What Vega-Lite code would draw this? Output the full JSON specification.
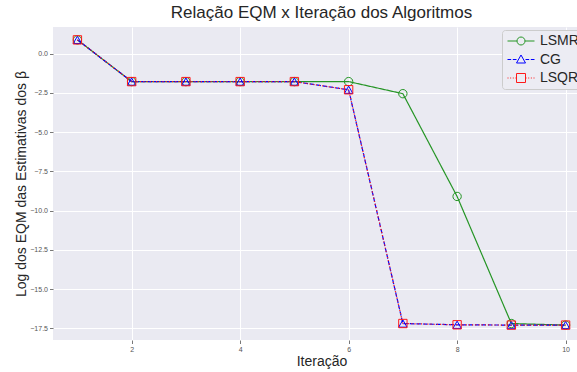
{
  "$schema": "https://vega.github.io/schema/vega-lite/v6.json",
  "autosize": "none",
  "width": 537,
  "height": 313,
  "padding": {"left": 53, "top": 27, "right": 0, "bottom": 32},
  "background": "white",
  "title": {"text": "Relação EQM x Iteração dos Algoritmos", "font": "Liberation Sans", "fontSize": 17, "fontWeight": "normal", "color": "#262626", "offset": 5, "anchor": "middle"},
  "config": {
    "view": {"fill": "#EAEAF2", "stroke": null},
    "axis": {"domain": false, "gridColor": "white", "gridWidth": 1, "tickColor": "#555555", "tickSize": 3.5, "tickWidth": 0.8, "labelFont": "Liberation Sans", "labelFontSize": 7, "labelColor": "#555555", "labelPadding": 2, "titleFont": "Liberation Sans", "titleFontSize": 14, "titleFontWeight": "normal", "titleColor": "#262626"},
    "legend": {"symbolStrokeWidth": 1, "symbolSize": 100, "symbolOpacity": 1}
  },
  "data": {"values": [
    {"iter": 1, "metodo": "LSMR", "eqm": 0.88},
    {"iter": 2, "metodo": "LSMR", "eqm": -1.78},
    {"iter": 3, "metodo": "LSMR", "eqm": -1.78},
    {"iter": 4, "metodo": "LSMR", "eqm": -1.78},
    {"iter": 5, "metodo": "LSMR", "eqm": -1.78},
    {"iter": 6, "metodo": "LSMR", "eqm": -1.78},
    {"iter": 7, "metodo": "LSMR", "eqm": -2.55},
    {"iter": 8, "metodo": "LSMR", "eqm": -9.1},
    {"iter": 9, "metodo": "LSMR", "eqm": -17.2},
    {"iter": 10, "metodo": "LSMR", "eqm": -17.3},
    {"iter": 1, "metodo": "CG", "eqm": 0.88},
    {"iter": 2, "metodo": "CG", "eqm": -1.78},
    {"iter": 3, "metodo": "CG", "eqm": -1.78},
    {"iter": 4, "metodo": "CG", "eqm": -1.78},
    {"iter": 5, "metodo": "CG", "eqm": -1.78},
    {"iter": 6, "metodo": "CG", "eqm": -2.3},
    {"iter": 7, "metodo": "CG", "eqm": -17.2},
    {"iter": 8, "metodo": "CG", "eqm": -17.28},
    {"iter": 9, "metodo": "CG", "eqm": -17.3},
    {"iter": 10, "metodo": "CG", "eqm": -17.3},
    {"iter": 1, "metodo": "LSQR", "eqm": 0.88},
    {"iter": 2, "metodo": "LSQR", "eqm": -1.78},
    {"iter": 3, "metodo": "LSQR", "eqm": -1.78},
    {"iter": 4, "metodo": "LSQR", "eqm": -1.78},
    {"iter": 5, "metodo": "LSQR", "eqm": -1.78},
    {"iter": 6, "metodo": "LSQR", "eqm": -2.3},
    {"iter": 7, "metodo": "LSQR", "eqm": -17.2},
    {"iter": 8, "metodo": "LSQR", "eqm": -17.28},
    {"iter": 9, "metodo": "LSQR", "eqm": -17.3},
    {"iter": 10, "metodo": "LSQR", "eqm": -17.3}
  ]},
  "encoding": {
    "x": {"field": "iter", "type": "quantitative", "title": "Iteração", "scale": {"domain": [0.55, 10.45], "nice": false, "zero": false}, "axis": {"values": [2, 4, 6, 8, 10], "format": "d", "titlePadding": 2}},
    "y": {"field": "eqm", "type": "quantitative", "title": "Log dos EQM das Estimativas dos β", "scale": {"domain": [-18.25, 1.7], "nice": false, "zero": false}, "axis": {"values": [0, -2.5, -5, -7.5, -10, -12.5, -15, -17.5], "format": ".1f", "titlePadding": 1}}
  },
  "resolve": {"scale": {"shape": "independent", "color": "independent"}},
  "layer": [
    {
      "mark": {"type": "line", "strokeWidth": 1.2},
      "encoding": {
        "color": {"field": "metodo", "type": "nominal", "scale": {"domain": ["LSMR", "CG", "LSQR"], "range": ["#259525", "#0000ff", "#ff1a1a"]}, "legend": null},
        "strokeDash": {"field": "metodo", "type": "nominal", "scale": {"domain": ["LSMR", "CG", "LSQR"], "range": [[1, 0], [4.5, 2], [1.2, 2]]}, "legend": null},
        "order": {"field": "iter", "type": "quantitative"}
      }
    },
    {
      "mark": {"type": "point", "filled": false, "strokeWidth": 1, "opacity": 1, "size": 70},
      "encoding": {
        "color": {"field": "metodo", "type": "nominal", "scale": {"domain": ["LSMR", "CG", "LSQR"], "range": ["#259525", "#0000ff", "#ff1a1a"]}, "legend": null},
        "shape": {"field": "metodo", "type": "nominal", "scale": {"domain": ["LSMR", "CG", "LSQR"], "range": ["circle", "triangle-up", "square"]}, "legend": null}
      }
    },
    {
      "transform": [{"filter": "false"}],
      "mark": {"type": "point", "filled": false, "strokeWidth": 1, "opacity": 1},
      "encoding": {
        "color": {"field": "metodo", "type": "nominal", "scale": {"domain": ["LSMR", "CG", "LSQR"], "range": ["#259525", "#0000ff", "#ff1a1a"]},
          "legend": {"title": null, "orient": "none", "legendX": 449, "legendY": 3, "labelFont": "Liberation Sans", "labelFontSize": 14, "labelColor": "#262626", "padding": 4, "rowPadding": 4.5, "symbolSize": 100, "symbolStrokeWidth": 1, "symbolOpacity": 1, "symbolOffset": 8, "labelOffset": 12, "fillColor": "#ECECF3", "strokeColor": "#CCCCCC", "cornerRadius": 3}},
        "shape": {"field": "metodo", "type": "nominal", "scale": {"domain": ["LSMR", "CG", "LSQR"], "range": [
          "M-2.7,0H-0.8M0.8,0H2.7M-0.8,0A0.8,0.8,0,1,0,0.8,0A0.8,0.8,0,1,0,-0.8,0",
          "M-2.7,0H-1.96M-1.64,0H-0.9M0.9,0H1.64M1.96,0H2.7M0,-0.9L0.9,0.7L-0.9,0.7Z",
          "M-2.7,0H-2.5M-2.17,0H-1.97M-1.64,0H-1.44M-1.11,0H-0.91M0.91,0H1.11M1.44,0H1.64M1.97,0H2.17M2.5,0H2.7M-0.9,-0.9H0.9V0.9H-0.9Z"]},
          "legend": {"title": null, "orient": "none", "legendX": 449, "legendY": 3, "labelFont": "Liberation Sans", "labelFontSize": 14, "labelColor": "#262626", "padding": 4, "rowPadding": 4.5, "symbolSize": 100, "symbolStrokeWidth": 1, "symbolOpacity": 1, "symbolOffset": 8, "labelOffset": 12, "fillColor": "#ECECF3", "strokeColor": "#CCCCCC", "cornerRadius": 3}}
      }
    }
  ]
}
